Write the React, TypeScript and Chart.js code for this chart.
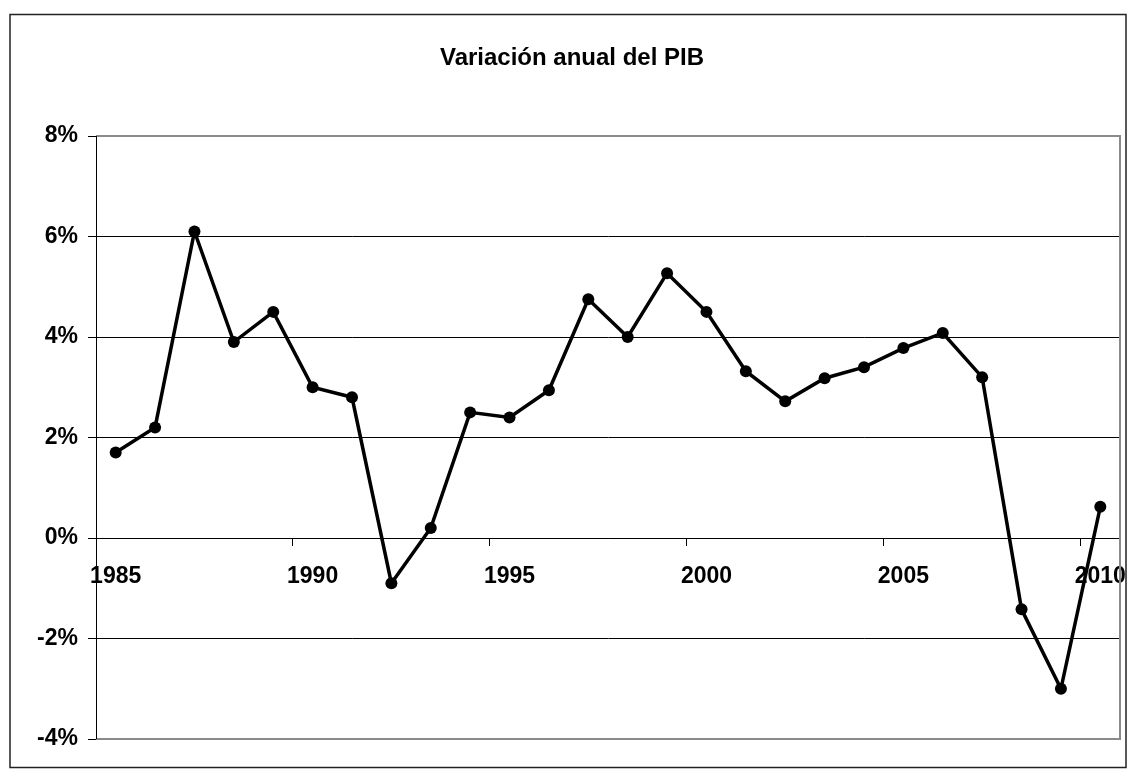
import React, { useEffect, useRef } from 'react';
import { Chart, registerables } from 'chart.js';

Chart.register(...registerables);

const chartTitle = 'Variación anual del PIB';
const years = [
  '1985', '1986', '1987', '1988', '1989', '1990', '1991', '1992', '1993',
  '1994', '1995', '1996', '1997', '1998', '1999', '2000', '2001', '2002',
  '2003', '2004', '2005', '2006', '2007', '2008', '2009', '2010',
];
const gdpGrowth = [
  1.7, 2.2, 6.1, 3.9, 4.5, 3.0, 2.8, -0.9, 0.2,
  2.5, 2.4, 2.94, 4.75, 4.0, 5.27, 4.5, 3.32, 2.72,
  3.18, 3.4, 3.78, 4.08, 3.2, -1.42, -3.0, 0.62,
];
const yMin = -4;
const yMax = 8;
const yStep = 2;
const xLabelEvery = 5;

const FONT = '"Liberation Sans", Arial, Helvetica, sans-serif';

const bordersPlugin = {
  id: 'excelBorders',
  beforeDraw(chart: any) {
    const ctx = chart.ctx;
    ctx.save();
    ctx.fillStyle = '#ffffff';
    ctx.fillRect(0, 0, chart.width, chart.height);
    ctx.restore();
  },
  afterDraw(chart: any) {
    const ctx = chart.ctx;
    const a = chart.chartArea;
    ctx.save();
    ctx.strokeStyle = '#8a8a8a';
    ctx.lineWidth = 2;
    ctx.beginPath();
    ctx.moveTo(a.left, a.top);
    ctx.lineTo(a.right, a.top);
    ctx.lineTo(a.right, a.bottom);
    ctx.lineTo(a.left, a.bottom);
    ctx.stroke();
    ctx.strokeStyle = '#000000';
    ctx.lineWidth = 1;
    ctx.beginPath();
    ctx.moveTo(Math.round(a.left) + 0.5, a.top);
    ctx.lineTo(Math.round(a.left) + 0.5, a.bottom);
    ctx.stroke();
    ctx.strokeStyle = '#222222';
    ctx.lineWidth = 1.5;
    ctx.strokeRect(10, 14.5, chart.width - 15, chart.height - 19);
    ctx.restore();
  },
};

export default function App() {
  const canvasRef = useRef<HTMLCanvasElement | null>(null);

  useEffect(() => {
    if (!canvasRef.current) return;
    const chart = new Chart(canvasRef.current, {
      type: 'line',
      data: {
        labels: years,
        datasets: [
          {
            label: 'PIB',
            data: gdpGrowth,
            borderColor: '#000000',
            backgroundColor: '#000000',
            borderWidth: 3.5,
            pointRadius: 6,
            pointBorderWidth: 0,
            pointBackgroundColor: '#000000',
            tension: 0,
            fill: false,
          },
        ],
      },
      options: {
        responsive: false,
        animation: false,
        events: [],
        layout: { padding: { left: 24, right: 11, top: 0, bottom: 33 } },
        plugins: {
          legend: { display: false },
          tooltip: { enabled: false },
          title: {
            display: true,
            text: chartTitle,
            color: '#000000',
            font: { family: FONT, size: 24, weight: 'bold' },
            padding: { top: 44, bottom: 63.2 },
          },
        },
        scales: {
          x: {
            type: 'category',
            position: { y: 0 },
            offset: true,
            afterFit: (scale: any) => {
              scale.paddingLeft = 0;
              scale.paddingRight = 0;
            },
            grid: {
              offset: true,
              drawOnChartArea: false,
              drawTicks: true,
              tickLength: 7,
              tickColor: (ctx: any) =>
                ctx.index % xLabelEvery === 0 ? '#000000' : 'rgba(0,0,0,0)',
            },
            border: { display: true, color: '#000000', width: 1 },
            ticks: {
              autoSkip: false,
              maxRotation: 0,
              minRotation: 0,
              padding: 18,
              color: '#000000',
              font: { family: FONT, size: 23, weight: 'bold' },
              callback: (_v: any, idx: number) =>
                idx % xLabelEvery === 0 ? years[idx] : '',
            },
          },
          y: {
            min: yMin,
            max: yMax,
            afterFit: (scale: any) => {
              scale.width = 72;
            },
            grid: {
              color: (ctx: any) =>
                ctx.tick && (ctx.tick.value === yMin || ctx.tick.value === yMax)
                  ? '#8a8a8a'
                  : '#000000',
              lineWidth: 1,
              tickLength: 8,
              tickColor: '#000000',
            },
            border: { display: true, color: '#000000', width: 1 },
            ticks: {
              stepSize: yStep,
              padding: 10,
              color: '#000000',
              font: { family: FONT, size: 23, weight: 'bold' },
              callback: (v: any) => `${v}%`,
            },
          },
        },
      },
      plugins: [bordersPlugin],
    });
    return () => chart.destroy();
  }, []);

  return (
    <div style={{ position: 'absolute', left: 0, top: 0, width: 1131, height: 772 }}>
      <canvas ref={canvasRef} width={1131} height={772} style={{ display: 'block' }} />
    </div>
  );
}
